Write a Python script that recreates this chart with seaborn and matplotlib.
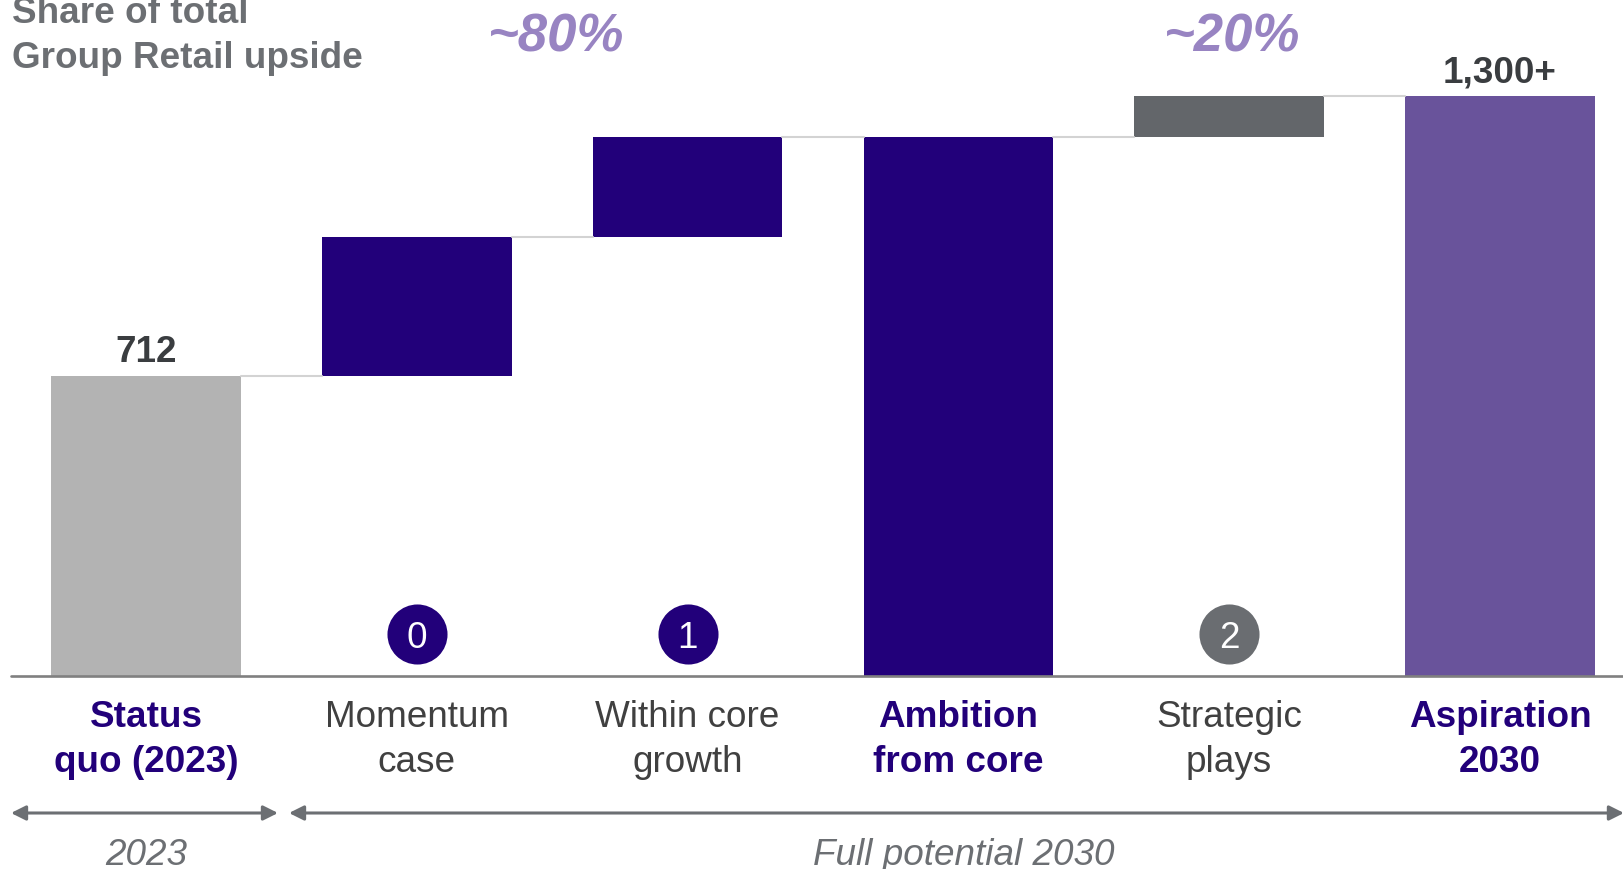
import matplotlib
matplotlib.use("Agg")
import matplotlib.pyplot as plt
import seaborn as sns
import pandas as pd

# ---- data ----
categories = ["Status\nquo (2023)", "Momentum\ncase", "Within core\ngrowth",
              "Ambition\nfrom core", "Strategic\nplays", "Aspiration\n2030"]
bar_bottoms = [0, 712, 1042, 0, 1279, 0]
bar_heights = [712, 330, 237, 1279, 98, 1377]
value_labels = ["712", "", "", "", "", "1,300+"]
step_badges = ["", "0", "1", "", "2", ""]
share_labels = ["~80%", "~20%"]
period_labels = ["2023", "Full potential 2030"]
y_title = "Share of total\nGroup Retail upside"

DARK = "#22007A"
GREY_BAR = "#B3B3B3"
STRAT = "#63666A"
ASP = "#69539B"
bar_colors = [GREY_BAR, DARK, DARK, DARK, STRAT, ASP]
label_bold = [True, False, False, True, False, True]
badge_colors = [None, DARK, DARK, None, "#6A6D71", None]

sns.set_style("white")
plt.rcParams["font.family"] = ["Liberation Sans", "DejaVu Sans"]

W, H = 1624, 870
fig = plt.figure(figsize=(W / 100, H / 100), dpi=100)
base_px = 677
px_per_unit = 300 / 712
ax = fig.add_axes([11 / W, (H - base_px) / H, 1 - 11 / W, base_px / H])

df = pd.DataFrame({"cat": categories, "h": bar_heights, "b": bar_bottoms, "c": bar_colors})
for _, row in df.iterrows():
    sns.barplot(x=[row["cat"]], y=[row["h"]], order=categories, color=row["c"],
                bottom=row["b"], width=0.70, ax=ax, saturation=1, linewidth=0)

ax.set_xlim(-0.4985, 5.458)
ax.set_ylim(0, base_px / px_per_unit)
ax.axis("off")

# baseline
ax.axhline(0, color="#808080", lw=1.9, clip_on=False, zorder=5)

# connector lines
tops = [b + h for b, h in zip(bar_bottoms, bar_heights)]
half = 0.35
for i in range(len(categories) - 1):
    lvl = tops[i]
    ax.plot([i + half, i + 1 - half], [lvl, lvl], color="#D3D3D3", lw=1.5, zorder=1)

OFF = 4  # text center offset (px)

def ypx(p):
    return (base_px - p) / px_per_unit

def ytx(p):
    return (base_px - p - OFF) / px_per_unit

FS = 26.6
# value labels
for i, lab in enumerate(value_labels):
    if lab:
        ax.text(i, tops[i] + (28 - OFF) / px_per_unit, lab, ha="center", va="center",
                fontsize=FS, fontweight="bold", color="#3A3D40", clip_on=False)

# badges
for i, b in enumerate(step_badges):
    if b:
        ax.scatter([i], [ypx(635)], s=1870, color=badge_colors[i], zorder=6, linewidths=0)
        ax.text(i, ytx(635), b, ha="center", va="center", fontsize=FS, color="white", zorder=7)

# category labels
for i, lab in enumerate(categories):
    l1, l2 = lab.split("\n")
    col = DARK if label_bold[i] else "#404040"
    fw = "bold" if label_bold[i] else "normal"
    ax.text(i, ytx(714), l1, ha="center", va="center", fontsize=FS, color=col,
            fontweight=fw, clip_on=False)
    ax.text(i, ytx(759), l2, ha="center", va="center", fontsize=FS, color=col,
            fontweight=fw, clip_on=False)

# title top-left
t1, t2 = y_title.split("\n")
ax.text((12 - 146) / 270.8, ytx(10), t1, ha="left", va="center", fontsize=FS,
        fontweight="bold", color="#6C6F73", clip_on=False)
ax.text((12 - 146) / 270.8, ytx(55), t2, ha="left", va="center", fontsize=FS,
        fontweight="bold", color="#6C6F73", clip_on=False)

# share labels
for xp, lab in zip([556, 1232], share_labels):
    ax.text((xp - 146) / 270.8, ytx(34), lab, ha="center", va="center", fontsize=38,
            fontweight="bold", style="italic", color="#9884C2", clip_on=False)

# bottom arrows
ya = ypx(814)
for x0, x1 in [((11 - 146) / 270.8, (278 - 146) / 270.8), ((289 - 146) / 270.8, (1624 - 146) / 270.8)]:
    ax.annotate("", xy=(x1, ya), xytext=(x0, ya), annotation_clip=False,
                arrowprops=dict(arrowstyle="<|-|>", color="#6C6F73", lw=2.2,
                                mutation_scale=22, shrinkA=0, shrinkB=0))

for xp, lab in zip([146, 964], period_labels):
    ax.text((xp - 146) / 270.8, ytx(852), lab, ha="center", va="center", fontsize=FS,
            style="italic", color="#6C6F73", clip_on=False)

fig.savefig("out.png", dpi=100)
